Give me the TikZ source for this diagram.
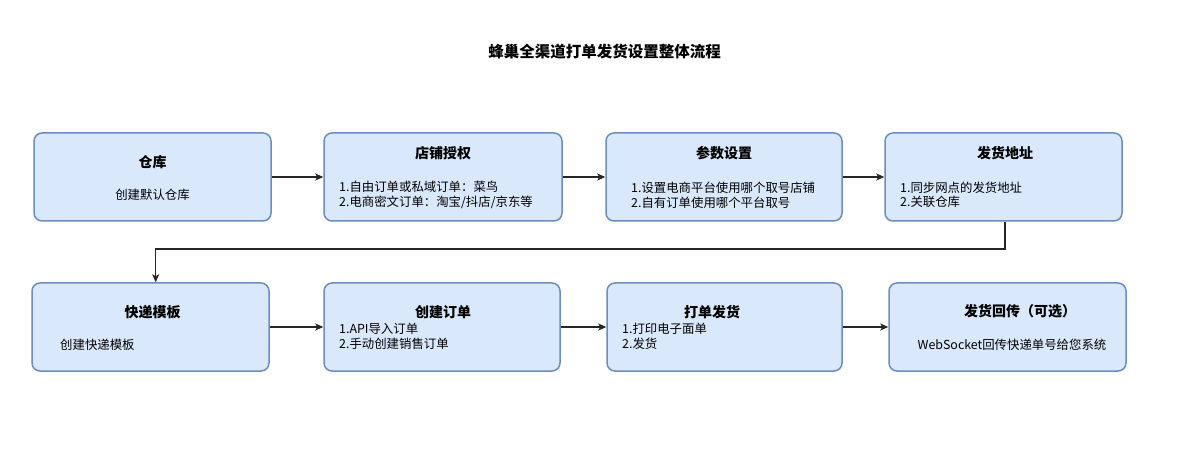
\documentclass[tikz,border=0pt]{standalone}
\usepackage{fontspec}
\setmainfont{Noto Sans CJK SC}
\usetikzlibrary{arrows.meta}
\definecolor{boxfill}{HTML}{DAE8FC}
\definecolor{boxline}{HTML}{6C8EBF}
\begin{document}
\begin{tikzpicture}[x=1pt,y=-1pt,
  box/.style={draw=boxline, fill=boxfill, line width=1.5pt, rounded corners=8pt, inner sep=0pt},
  ttl/.style={font=\fontsize{14}{16}\selectfont\bfseries, inner sep=0pt},
  body/.style={font=\fontsize{12.4}{14.6}\selectfont, inner sep=0pt, align=left},
  conn/.style={draw=black!85, line width=1.1pt, -{Stealth[length=8pt,width=7pt,inset=2pt]}}
]
\fill[white] (0,0) rectangle (1200,449);
\useasboundingbox (0,0) rectangle (1200,449);

\node[font=\fontsize{15.5}{18}\selectfont\bfseries, inner sep=0pt] (title) at (604.5,51.7) {蜂巢全渠道打单发货设置整体流程};

% row 1
\node[box, minimum width=237pt, minimum height=88pt] (b1) at (152.5,177) {};
\node[box, minimum width=238pt, minimum height=88pt] (b2) at (443,177) {};
\node[box, minimum width=236pt, minimum height=88pt] (b3) at (724,177) {};
\node[box, minimum width=237pt, minimum height=88pt] (b4) at (1003.5,177) {};
% row 2
\node[box, minimum width=237pt, minimum height=88pt] (b5) at (150.5,327) {};
\node[box, minimum width=236pt, minimum height=88pt] (b6) at (442,327) {};
\node[box, minimum width=235pt, minimum height=88pt] (b7) at (724.5,327) {};
\node[box, minimum width=237pt, minimum height=88pt] (b8) at (1007.5,327) {};

% titles
\node[ttl] (h1) at (152.5,161.7) {仓库};
\node[ttl] (h2) at (443,153.3) {店铺授权};
\node[ttl] (h3) at (724,153.3) {参数设置};
\node[ttl] (h4) at (1005,153.3) {发货地址};
\node[ttl] (h5) at (152.5,311.7) {快递模板};
\node[ttl] (h6) at (443,311.7) {创建订单};
\node[ttl] (h7) at (712,311.7) {打单发货};
\node[ttl] (h8) at (1020,311.7) {发货回传（可选）};

% bodies
\node[body] (t1) at (152.5,195) {创建默认仓库};
\node[body, anchor=west] (t2) at (339,195) {1.自由订单或私域订单：菜鸟\\2.电商密文订单：淘宝/抖店/京东等};
\node[body, anchor=west] (t3) at (631,195) {1.设置电商平台使用哪个取号店铺\\2.自有订单使用哪个平台取号};
\node[body, anchor=west] (t4) at (900,195) {1.同步网点的发货地址\\2.关联仓库};
\node[body, anchor=west] (t5) at (60,345) {创建快递模板};
\node[body, anchor=west] (t6) at (339,336.2) {1.API导入订单\\2.手动创建销售订单};
\node[body, anchor=west] (t7) at (622,336.2) {1.打印电子面单\\2.发货};
\node[body] (t8) at (1012,345) {WebSocket回传快递单号给您系统};

% connectors
\draw[conn] (b1.east) -- (b2.west);
\draw[conn] (b2.east) -- (b3.west);
\draw[conn] (b3.east) -- (b4.west);
\coordinate (c1) at (1005,249);
\coordinate (c2) at (155.7,249);
\draw[conn] (b4.south -| c1) -- (c1) -- (c2) -- (c2 |- b5.north);
\draw[conn] (b5.east) -- (b6.west);
\draw[conn] (b6.east) -- (b7.west);
\draw[conn] (b7.east) -- (b8.west);
\end{tikzpicture}
\end{document}
